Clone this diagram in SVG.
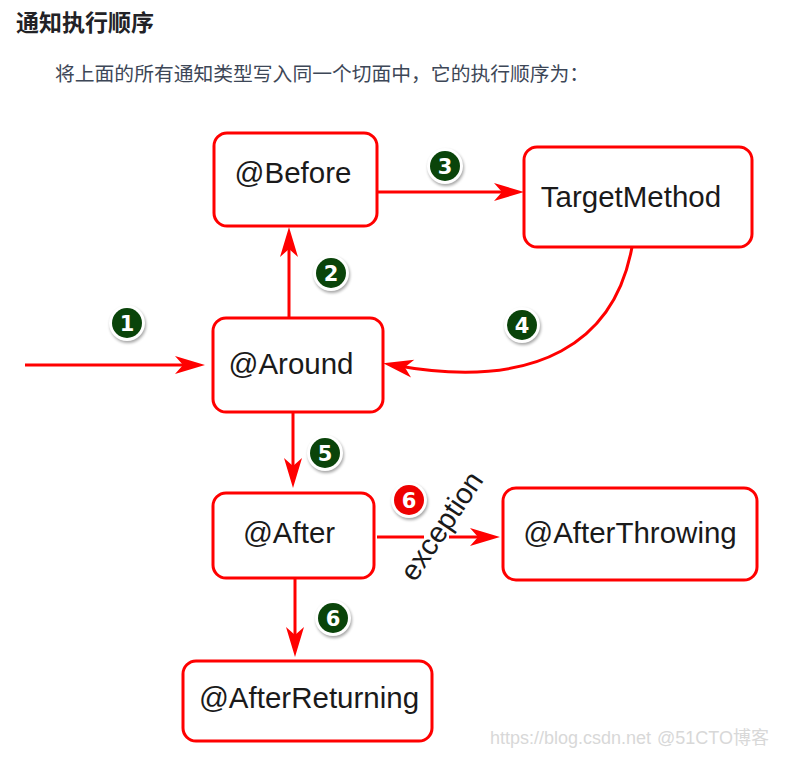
<svg xmlns="http://www.w3.org/2000/svg" width="811" height="771" viewBox="0 0 811 771">
<defs>
<style>
.box{fill:#fff;stroke:#ff0000;stroke-width:3}
.lbl{font-family:"Liberation Sans",Arial,sans-serif;font-size:29.5px;fill:#1a1a1a;text-anchor:middle}
.ln{fill:none;stroke:#ff0000;stroke-width:3}
.bn{font-family:"DejaVu Sans","Liberation Sans",sans-serif;font-weight:bold;font-size:21px;fill:#fff;text-anchor:middle}
.ring{fill:#fff}
.g{fill:#0a440a}
.r{fill:#ee0000}
.sh{fill:#000;opacity:0.35;filter:url(#blur)}
</style>
<filter id="blur" x="-50%" y="-50%" width="200%" height="200%"><feGaussianBlur stdDeviation="1.6"/></filter>
<marker id="ah" viewBox="-41 -10 42 20" refX="-10" refY="0" markerWidth="42" markerHeight="20" orient="auto" markerUnits="userSpaceOnUse">
<path d="M0,0 L-30,-9 L-22,0 L-30,9 Z" fill="#ff0000"/>
</marker>
<g id="badge-shape">
<circle class="sh" cx="1" cy="2" r="18"/>
<circle class="ring" cx="0" cy="0" r="18"/>
</g>
</defs>
<rect width="811" height="771" fill="#fff"/>
<text x="16" y="31" font-family="'Noto Sans CJK SC',sans-serif" font-weight="bold" font-size="23" fill="#222226">通知执行顺序</text>
<text x="55" y="81" font-family="'Noto Sans CJK SC',sans-serif" font-size="19.8" fill="#3d4757">将上面的所有通知类型写入同一个切面中，它的执行顺序为：</text>

<g id="connectors">
<path class="ln" d="M25,365 L195,365" marker-end="url(#ah)"/>
<path class="ln" d="M289,318 L289,237" marker-end="url(#ah)"/>
<path class="ln" d="M377,192 L514,192" marker-end="url(#ah)"/>
<path class="ln" d="M632,247 C615,340 540,392 393,365" marker-end="url(#ah)"/>
<path class="ln" d="M293,412 L293,478" marker-end="url(#ah)"/>
<path class="ln" d="M295,578 L295,647" marker-end="url(#ah)"/>
<path class="ln" d="M377,537 L424,537"/>
<path class="ln" d="M449,537 L490,537" marker-end="url(#ah)"/>
<text transform="translate(443,527) rotate(-56)" x="0" y="8" font-family="'Liberation Sans',Arial,sans-serif" font-size="29" fill="#1a1a1a" text-anchor="middle">exception</text>
</g>

<g id="before"><rect class="box" x="214" y="133" width="163" height="93" rx="13"/><text class="lbl" x="293" y="183">@Before</text></g>
<g id="target"><rect class="box" x="524" y="147" width="228" height="100" rx="13"/><text class="lbl" x="631" y="207">TargetMethod</text></g>
<g id="around"><rect class="box" x="213" y="318" width="170" height="94" rx="13"/><text class="lbl" x="291" y="374">@Around</text></g>
<g id="after"><rect class="box" x="213" y="493" width="161" height="85" rx="13"/><text class="lbl" x="289" y="543">@After</text></g>
<g id="afterthrowing"><rect class="box" x="503" y="488" width="254" height="92" rx="13"/><text class="lbl" x="630" y="543">@AfterThrowing</text></g>
<g id="afterreturning"><rect class="box" x="183" y="661" width="249" height="80" rx="13"/><text class="lbl" x="309" y="708">@AfterReturning</text></g>

<g id="badges">
<g transform="translate(127,323)"><use href="#badge-shape"/><circle class="g" r="15"/><text class="bn" y="7.5">1</text></g>
<g transform="translate(331,273)"><use href="#badge-shape"/><circle class="g" r="15"/><text class="bn" y="7.5">2</text></g>
<g transform="translate(445,166)"><use href="#badge-shape"/><circle class="g" r="15"/><text class="bn" y="7.5">3</text></g>
<g transform="translate(522,325)"><use href="#badge-shape"/><circle class="g" r="15"/><text class="bn" y="7.5">4</text></g>
<g transform="translate(325,453)"><use href="#badge-shape"/><circle class="g" r="15"/><text class="bn" y="7.5">5</text></g>
<g transform="translate(409,500)"><use href="#badge-shape"/><circle class="r" r="15"/><text class="bn" y="7.5">6</text></g>
<g transform="translate(333,618)"><use href="#badge-shape"/><circle class="g" r="15"/><text class="bn" y="7.5">6</text></g>
</g>

<g id="watermark" font-family="'Liberation Sans','Noto Sans CJK SC',sans-serif" font-size="18" fill="#d8d8d8">
<text x="490" y="744">https://blog.csdn.net</text>
<text x="657" y="744" stroke="#fff" stroke-width="3" paint-order="stroke">@51CTO博客</text>
</g>
</svg>
